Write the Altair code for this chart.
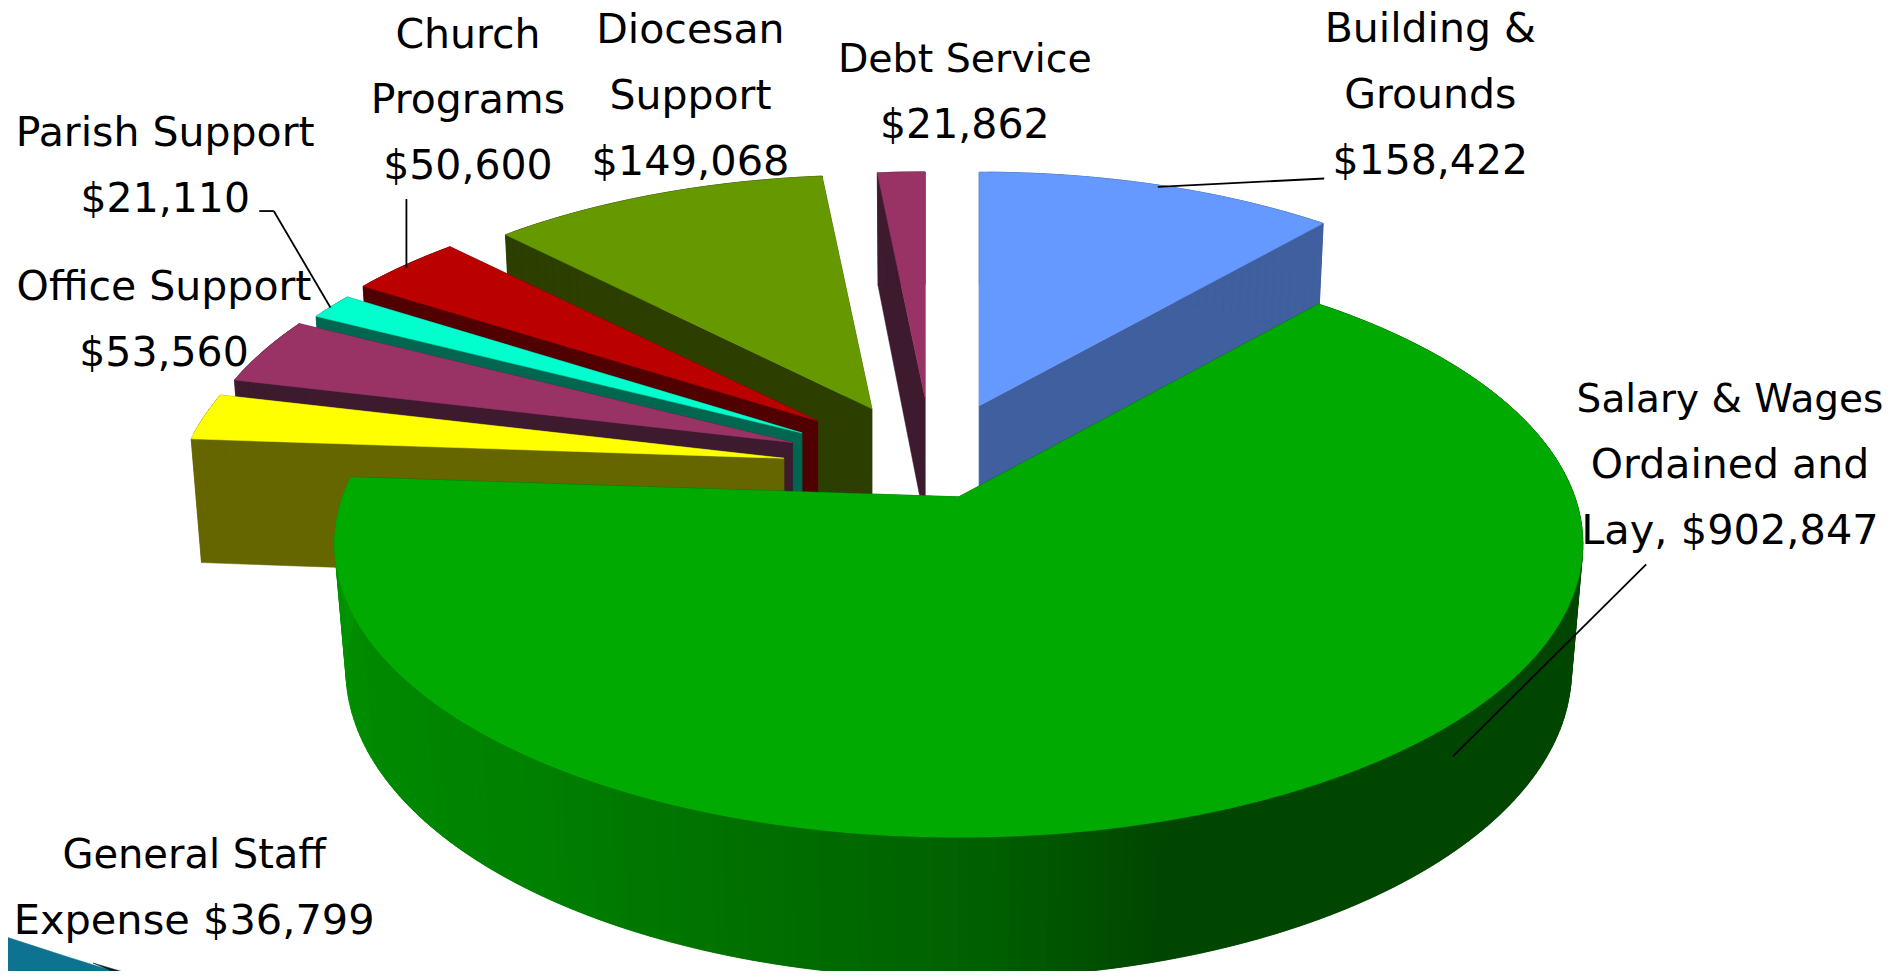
import math
import altair as alt
import pandas as pd

# ---- values ----
names = ["Building & Grounds", "Salary & Wages Ordained and Lay", "General Staff Expense",
         "Office Support", "Parish Support", "Church Programs", "Diocesan Support", "Debt Service"]
values = [158422, 902847, 36799, 53560, 21110, 50600, 149068, 21862]
top_colors = ["#6699ff", "#00aa00", "#ffff00", "#993366", "#00ffcc", "#bb0000", "#669900", "#993366"]
dark_colors = ["#3f5f9f", "#004400", "#666600", "#3d1a2e", "#006650", "#500000", "#2c3e00", "#3d1a2e"]

label_lines = [
    ["Building &", "Grounds", "$158,422"],
    ["Salary & Wages", "Ordained and", "Lay, $902,847"],
    ["General Staff", "Expense $36,799"],
    ["Office Support", "$53,560"],
    ["Parish Support", "$21,110"],
    ["Church", "Programs", "$50,600"],
    ["Diocesan", "Support", "$149,068"],
    ["Debt Service", "$21,862"],
]
label_sizes = [
    [41, 41, 41],
    [39, 41, 41.5],
    [40, 41.5],
    [41, 41],
    [41, 41],
    [41, 41, 41],
    [41, 41, 41.5],
    [39.5, 41],
]

# ---- layout, in the picture's own pixels ----
Q = 1891 / 1568
apex = [(812, 336.5), (795, 412), (650, 380), (657, 367), (665, 359), (678, 349), (723, 339), (767, 330)]
radial = [0.94, 1.0, 0.98, 0.97, 0.95, 0.94, 0.94, 0.905]
stretch = [1.015, 1.005, 1.0, 1.0, 1.005, 1.015, 1.012, 1.0]
label_pos = [(1186, 35), (1434.5, 342), (161, 720), (136, 249), (137, 121), (388, 39.5), (572.5, 35.5), (800, 60)]
label_step = 54.6
draw_order = [7, 6, 5, 4, 3, 2, 0, 1]
R, A, H, K, M = 613.0, 286.0, 127.0, 0.16, 0.018
leaders = [
    [(960, 155), (1098, 148)],
    [(337, 165), (337, 222)],
    [(215, 175), (227, 175)],
    [(227, 175), (274, 255)],
    [(1365, 468), (1205, 627)],
]
wall_stops = [(-184, (0, 150, 0)), (-127, (0, 128, 0)), (-100, (0, 106, 0)),
              (-88, (0, 96, 0)), (-74, (0, 70, 0)), (30, (0, 70, 0))]


def wall_color(a):
    for (a0, c0), (a1, c1) in zip(wall_stops, wall_stops[1:]):
        if a0 <= a <= a1:
            t = (a - a0) / (a1 - a0)
            return "#%02x%02x%02x" % tuple(int(round(p + (q - p) * t)) for p, q in zip(c0, c1))
    return "#004600"


def project(i, ang, z, rho=1.0):
    ax, ay = apex[i]
    r = radial[i] * rho
    x = r * math.cos(math.radians(ang))
    y = r * math.sin(math.radians(ang))
    d = 1 + K * y + M * z
    return [ax * Q - 8 + stretch[i] * R * x / d, ay * Q - 8 - (A * y - H * z) / d]


def arc(a0, a1):
    n = max(2, int(abs(a1 - a0) / 1.0))
    return [a0 + (a1 - a0) * j / n for j in range(n + 1)]


def feature(pts, color):
    return {"type": "Feature",
            "properties": {"color": color},
            "geometry": {"type": "Polygon", "coordinates": [pts + [pts[0]]]}}


total = sum(values)
spans = []
start = 90.0
for v in values:
    end = start - v / total * 360
    spans.append((start, end))
    start = end

features = []
for i in draw_order:
    a0, a1 = spans[i]
    for a in (a1, a0):
        features.append(feature([project(i, a, 0), project(i, a, 0, 0), project(i, a, 1, 0), project(i, a, 1)], dark_colors[i]))
    angs = arc(a0, a1)
    # wall strips are painted from the far end so that each one overlaps its neighbour
    for j in range(len(angs) - 1):
        p, q = angs[j], angs[j + 1]
        q_over = angs[min(j + 2, len(angs) - 1)]
        c = wall_color((p + q) / 2) if i == 1 else dark_colors[i]
        features.append(feature([project(i, p, 0), project(i, q_over, 0), project(i, q_over, 1), project(i, p, 1)], c))
    features.append(feature([project(i, a, 0) for a in angs] + [project(i, 0, 0, 0)], top_colors[i]))

# corner ornament of the slide
swoosh = [[-8, 927], [60, 949], [105, 963], [139, 971], [-8, 971]]
swoosh_edge = [[85, 955], [139, 971], [122, 971]]
features.append(feature(swoosh, "#0d7390"))
features.append(feature(swoosh_edge, "#05202a"))

shapes = alt.Chart(alt.Data(values=features)).mark_geoshape(strokeWidth=0.5).encode(
    fill=alt.Fill("properties.color:N", scale=None),
    stroke=alt.Stroke("properties.color:N", scale=None),
).project(type="identity", scale=1, translate=[0, 0])

text_rows = []
for lines, sizes, (lx, ly) in zip(label_lines, label_sizes, label_pos):
    for n, (line, size) in enumerate(zip(lines, sizes)):
        text_rows.append({"x": lx * Q - 8, "y": (ly + n * label_step) * Q - 8, "t": line, "s": size})
texts = alt.Chart(pd.DataFrame(text_rows)).mark_text(
    font="DejaVu Sans", align="center", baseline="alphabetic", color="#000000"
).encode(
    x=alt.X("x:Q", scale=None, axis=None),
    y=alt.Y("y:Q", scale=None, axis=None),
    size=alt.Size("s:Q", scale=None, legend=None),
    text="t:N",
)

rule_rows = [{"x": a[0] * Q - 8, "y": a[1] * Q - 8, "x2": b[0] * Q - 8, "y2": b[1] * Q - 8} for a, b in leaders]
rules = alt.Chart(pd.DataFrame(rule_rows)).mark_rule(color="#000000", strokeWidth=1.8).encode(
    x=alt.X("x:Q", scale=None, axis=None),
    y=alt.Y("y:Q", scale=None, axis=None),
    x2="x2:Q",
    y2="y2:Q",
)

chart = alt.layer(shapes, rules, texts).properties(
    width=1875, height=963, padding=0, autosize=alt.AutoSizeParams(type="none")
).configure_view(stroke=None)

chart.save("out.html", embed_options={"renderer": "svg", "actions": False})
